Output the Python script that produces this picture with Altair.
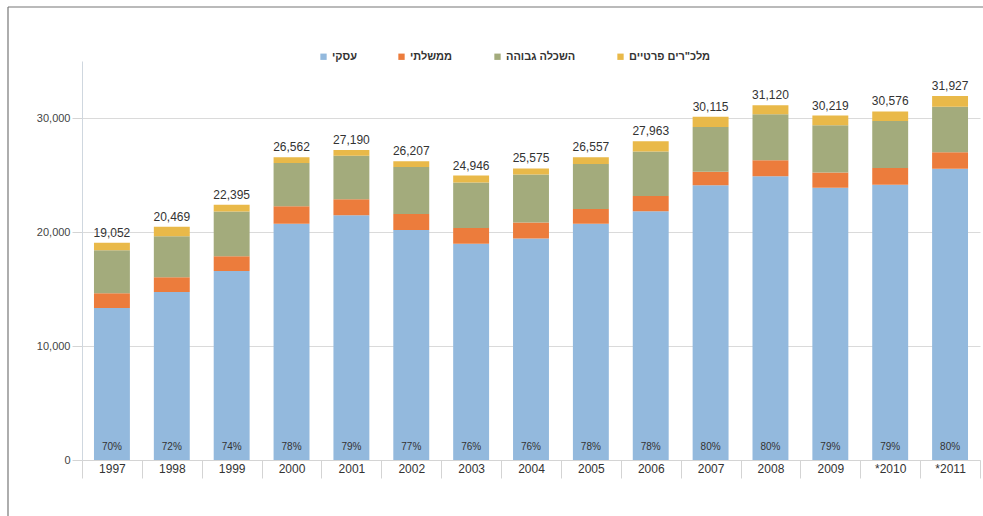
import altair as alt
import pandas as pd

years = ["1997", "1998", "1999", "2000", "2001", "2002", "2003", "2004",
         "2005", "2006", "2007", "2008", "2009", "*2010", "*2011"]
series = ["עסקי", "ממשלתי", "השכלה גבוהה", 'מלכ"רים פרטיים']
colors = ["#93B9DD", "#EC7C3C", "#A3AB7C", "#E9B949"]

business = [13336, 14738, 16572, 20718, 21480, 20179, 18959, 19437,
            20714, 21811, 24092, 24896, 23873, 24155, 25542]
government = [1300, 1300, 1300, 1550, 1400, 1400, 1400, 1400,
              1300, 1350, 1200, 1400, 1350, 1450, 1450]
higher_ed = [3766, 3600, 3923, 3794, 3810, 4128, 3987, 4208,
             3943, 3902, 3923, 4024, 4146, 4121, 3985]
private_np = [650, 831, 600, 500, 500, 500, 600, 530,
              600, 900, 900, 800, 850, 850, 950]
totals = [19052, 20469, 22395, 26562, 27190, 26207, 24946, 25575,
          26557, 27963, 30115, 31120, 30219, 30576, 31927]
pct = [70, 72, 74, 78, 79, 77, 76, 76, 78, 78, 80, 80, 79, 79, 80]

rows = []
for i, yr in enumerate(years):
    for k, vals in enumerate([business, government, higher_ed, private_np]):
        rows.append({"year": yr, "series": series[k], "value": vals[i], "order": k})
df = pd.DataFrame(rows)
tot = pd.DataFrame({"year": years, "total": totals, "pct": [f"{p}%" for p in pct]})

FONT = "Liberation Sans"

xscale = alt.Scale(paddingInner=0, paddingOuter=0)
xaxis = alt.Axis(title=None, labelAngle=0, tickBand="extent", tickSize=18,
                 labelPadding=-15, tickColor="#d4d4d4", domainColor="#d4d4d4",
                 labelFontSize=12, labelColor="#333333", labelFont=FONT)
yscale = alt.Scale(domain=[0, 35000], nice=False)
yaxis = alt.Axis(title=None, values=[0, 10000, 20000, 30000], format=",.0f",
                 grid=True, gridColor="#dadada", tickSize=10,
                 tickColor="#d4d4d4", domainColor="#cfd7df",
                 labelPadding=2, labelFontSize=11, labelColor="#444444",
                 labelFont=FONT)

bars = alt.Chart(df).mark_bar(width=alt.RelativeBandSize(0.6)).encode(
    x=alt.X("year:N", sort=years, scale=xscale, axis=xaxis),
    y=alt.Y("value:Q", stack="zero", scale=yscale, axis=yaxis),
    color=alt.Color("series:N", scale=alt.Scale(domain=series, range=colors),
                    legend=alt.Legend(title=None, orient="none", direction="horizontal",
                                      legendX=236, legendY=-10, columnPadding=39,
                                      symbolType="square", symbolSize=40,
                                      symbolStrokeWidth=0, labelOffset=3,
                                      labelFontSize=11,
                                      labelFontWeight="bold", labelColor="#333333",
                                      labelFont=FONT)),
    order=alt.Order("order:Q", sort="ascending"),
)

total_text = alt.Chart(tot).mark_text(
    baseline="bottom", dy=-3, fontSize=12, color="#333333", font=FONT
).encode(
    x=alt.X("year:N", sort=years, scale=xscale, axis=xaxis),
    y=alt.Y("total:Q", scale=yscale, axis=yaxis),
    text=alt.Text("total:Q", format=","),
)

pct_text = alt.Chart(tot).mark_text(
    baseline="middle", dy=-13, fontSize=10, color="#333333", font=FONT
).encode(
    x=alt.X("year:N", sort=years, scale=xscale, axis=xaxis),
    y=alt.datum(0, scale=yscale, axis=yaxis),
    text="pct:N",
)

frame_df = pd.DataFrame({"a": [0]})
left_line = alt.Chart(frame_df).mark_rule(color="#777777", strokeWidth=1.2).encode(
    x=alt.value(-74), y=alt.value(-54), y2=alt.value(460)
)
top_line = alt.Chart(frame_df).mark_rule(color="#777777", strokeWidth=1.2).encode(
    x=alt.value(-74), x2=alt.value(910), y=alt.value(-54)
)

chart = alt.layer(bars, total_text, pct_text, left_line, top_line).properties(
    width=898, height=399,
    autosize=alt.AutoSizeParams(type="none"),
    padding={"left": 82, "top": 61, "right": 3, "bottom": 56},
    background="white",
).configure_view(stroke=None)

chart.save("out.html", embed_options={"renderer": "svg", "actions": False})
